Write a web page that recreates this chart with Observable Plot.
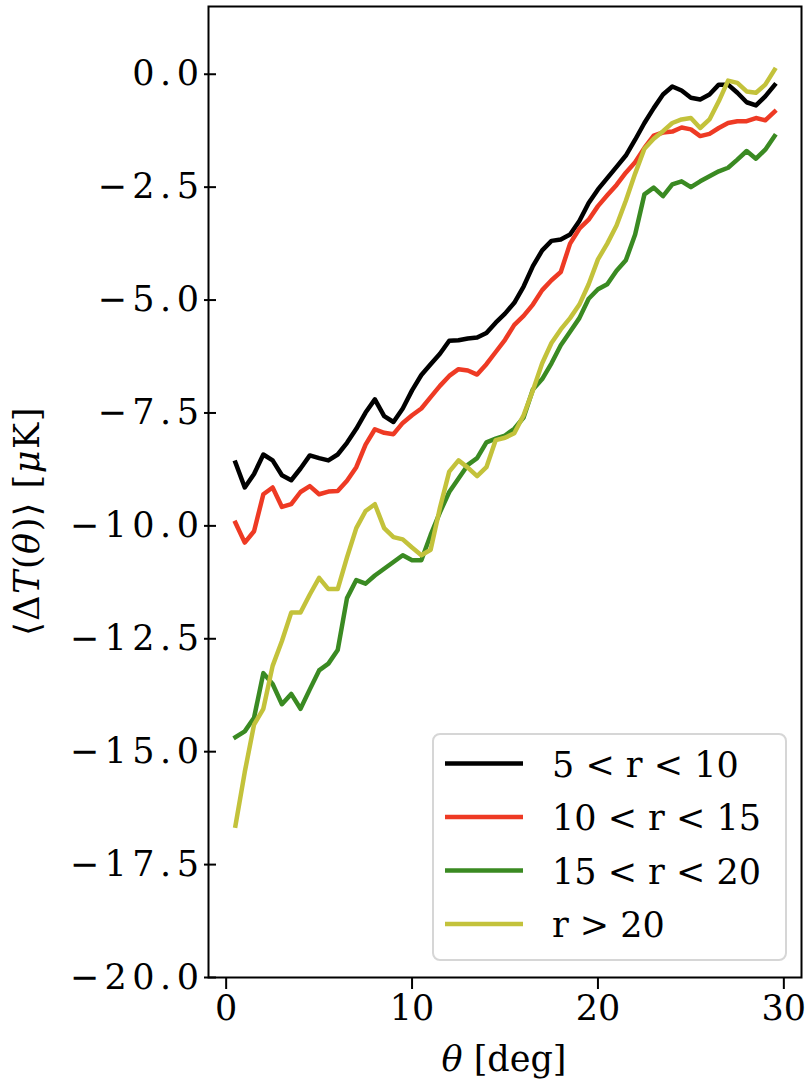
<!DOCTYPE html>
<html><head><meta charset="utf-8">
<script src="https://cdn.jsdelivr.net/npm/d3@7"></script>
<script src="https://cdn.jsdelivr.net/npm/@observablehq/plot@0.6"></script>
<style>html,body{margin:0;padding:0;background:#fff}svg{display:block}</style>
</head><body><div id="chart"></div>
<script>
const theta = [0.5,1,1.5,2,2.5,3,3.5,4,4.5,5,5.5,6,6.5,7,7.5,8,8.5,9,9.5,10,
  10.5,11,11.5,12,12.5,13,13.5,14,14.5,15,15.5,16,16.5,17,17.5,18,18.5,19,19.5,20,
  20.5,21,21.5,22,22.5,23,23.5,24,24.5,25,25.5,26,26.5,27,27.5,28,28.5,29,29.5];

const seriesNames = ["5 < r < 10", "10 < r < 15", "15 < r < 20", "r > 20"];
const seriesColors = ["#000000", "#ee3a24", "#3a8a22", "#c3c23b"];

const r5to10 = [-8.6,-9.15,-8.85,-8.42,-8.55,-8.88,-8.99,-8.73,-8.44,-8.5,
  -8.55,-8.42,-8.16,-7.85,-7.49,-7.2,-7.57,-7.7,-7.4,-7.0,
  -6.66,-6.42,-6.19,-5.9,-5.89,-5.85,-5.83,-5.73,-5.5,-5.3,
  -5.06,-4.7,-4.25,-3.9,-3.69,-3.66,-3.55,-3.25,-2.85,-2.55,
  -2.3,-2.05,-1.8,-1.45,-1.08,-0.75,-0.45,-0.27,-0.36,-0.52,
  -0.56,-0.45,-0.23,-0.23,-0.41,-0.62,-0.69,-0.49,-0.24];

const r10to15 = [-9.93,-10.37,-10.12,-9.3,-9.15,-9.58,-9.52,-9.25,-9.12,-9.3,
  -9.24,-9.23,-9.0,-8.7,-8.2,-7.86,-7.94,-7.97,-7.72,-7.55,
  -7.4,-7.15,-6.9,-6.68,-6.53,-6.56,-6.65,-6.42,-6.15,-5.88,
  -5.55,-5.35,-5.1,-4.78,-4.56,-4.38,-3.75,-3.42,-3.22,-2.92,
  -2.68,-2.45,-2.18,-1.95,-1.63,-1.36,-1.29,-1.27,-1.18,-1.22,
  -1.37,-1.32,-1.19,-1.08,-1.04,-1.04,-0.97,-1.02,-0.83];

const r15to20 = [-14.68,-14.55,-14.25,-13.26,-13.5,-13.95,-13.72,-14.05,-13.62,-13.2,
  -13.05,-12.75,-11.6,-11.2,-11.28,-11.1,-10.95,-10.8,-10.65,-10.76,
  -10.76,-10.2,-9.7,-9.25,-8.95,-8.65,-8.5,-8.15,-8.07,-8.0,
  -7.85,-7.6,-6.98,-6.75,-6.4,-6.0,-5.7,-5.4,-4.97,-4.76,
  -4.65,-4.35,-4.12,-3.55,-2.66,-2.51,-2.7,-2.44,-2.37,-2.5,
  -2.37,-2.26,-2.15,-2.07,-1.89,-1.7,-1.87,-1.67,-1.37];

const rAbove20 = [-16.64,-15.45,-14.4,-14.05,-13.1,-12.55,-11.92,-11.92,-11.52,-11.15,
  -11.4,-11.4,-10.7,-10.05,-9.67,-9.52,-10.05,-10.25,-10.3,-10.48,
  -10.65,-10.53,-9.6,-8.8,-8.55,-8.71,-8.9,-8.7,-8.1,-8.05,
  -7.95,-7.55,-7.0,-6.4,-5.95,-5.65,-5.4,-5.1,-4.65,-4.1,
  -3.75,-3.35,-2.8,-2.2,-1.65,-1.43,-1.26,-1.08,-1.0,-0.97,
  -1.19,-1.0,-0.6,-0.14,-0.19,-0.38,-0.41,-0.23,0.1];

const xTicks = [0, 10, 20, 30];
const yTicks = [0, -2.5, -5, -7.5, -10, -12.5, -15, -17.5, -20];

const allSeries = [r5to10, r10to15, r15to20, rAbove20];
const rows = [];
allSeries.forEach((vals, k) => vals.forEach((v, i) => rows.push({theta: theta[i], dT: v, series: seriesNames[k]})));

const fmtY = d => (d < 0 ? "\u2212" : "") + Math.abs(d).toFixed(1);
const FONT = "DejaVu Serif";
const FS = 35;

const chart = Plot.plot({
  width: 809,
  height: 1089,
  marginLeft: 208,
  marginRight: 8,
  marginTop: 6,
  marginBottom: 112,
  style: {fontFamily: FONT, fontSize: FS + "px", color: "#000", background: "#fff", overflow: "visible"},
  x: {domain: [-0.95, 30.95], label: null},
  y: {domain: [-20, 1.5], label: null},
  color: {domain: seriesNames, range: seriesColors},
  marks: [
    Plot.axisX({ticks: xTicks, tickSize: 12, tickPadding: 6, tickFormat: d => String(d), label: null, strokeWidth: 2, fontSize: FS}),
    Plot.axisY({ticks: yTicks, tickSize: 12, tickPadding: 0, dx: 8, tickFormat: fmtY, label: null, strokeWidth: 2, fontSize: FS}),
    Plot.line(rows, {x: "theta", y: "dT", z: "series", stroke: "series", strokeWidth: 4.5, strokeLinejoin: "round", strokeLinecap: "square"}),
    Plot.frame({stroke: "#000", strokeWidth: 2})
  ]
});
document.getElementById("chart").appendChild(chart);

const svg = d3.select(chart);

// widen the y tick labels as in the reference
svg.selectAll("g[aria-label='y-axis tick label'] text").attr("letter-spacing", "5.5px");

// legend
const lg = svg.append("g").attr("font-family", FONT).attr("font-size", FS).attr("text-anchor", "start");
lg.append("rect").attr("x", 433).attr("y", 734).attr("width", 353).attr("height", 226)
  .attr("rx", 7).attr("fill", "#fff").attr("fill-opacity", 0.85).attr("stroke", "#d6d6d6").attr("stroke-width", 2);
const rowY = [763.5, 817, 870.5, 924];
seriesNames.forEach((name, k) => {
  lg.append("line").attr("x1", 445).attr("x2", 523).attr("y1", rowY[k]).attr("y2", rowY[k])
    .attr("stroke", seriesColors[k]).attr("stroke-width", 4.5);
  lg.append("text").attr("x", 552).attr("y", rowY[k] + 13).attr("text-anchor", "start").attr("fill", "#000").text(name);
});

// y label
const yl = svg.append("text").attr("transform", "translate(39,521) rotate(-90)")
  .attr("text-anchor", "middle").attr("font-family", FONT).attr("font-size", FS).attr("fill", "#000")
  .attr("letter-spacing", "1.5px");
yl.append("tspan").text("\u27E8\u0394");
yl.append("tspan").attr("font-style", "italic").text("T");
yl.append("tspan").text("(");
yl.append("tspan").attr("font-style", "italic").text("\u03B8");
yl.append("tspan").text(")\u27E9 [");
yl.append("tspan").attr("font-style", "italic").text("\u03BC");
yl.append("tspan").text("K]");

// x label
const xl = svg.append("text").attr("x", 504).attr("y", 1071).attr("text-anchor", "middle")
  .attr("font-family", FONT).attr("font-size", FS).attr("fill", "#000");
xl.append("tspan").attr("font-style", "italic").text("\u03B8");
xl.append("tspan").text(" [deg]");
</script>
</body></html>
